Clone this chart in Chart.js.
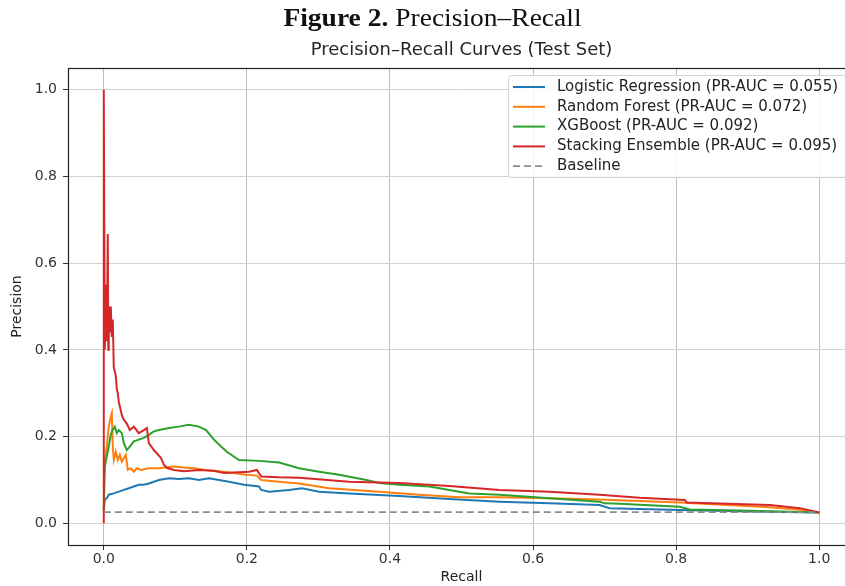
<!DOCTYPE html>
<html>
<head>
<meta charset="utf-8">
<script src="https://cdn.jsdelivr.net/npm/chart.js@4.4.1/dist/chart.umd.min.js"></script>
<style>
html, body { margin: 0; padding: 0; width: 845px; height: 586px; overflow: hidden; background: #fff; }
#wrap { position: absolute; left: 0; top: 0; }
#caption { position: absolute; left: 10px; top: 3px; width: 845px; text-align: center;
  font: 25px/30px "Liberation Serif", serif; color: #111; transform: scaleX(1.1); transform-origin: center; }
</style>
</head>
<body>
<div id="wrap"><canvas id="prChart" width="870" height="586"></canvas></div>
<div id="caption"><b>Figure 2.</b> Precision–Recall</div>
<script>
// values
const modelNames = ['Logistic Regression', 'Random Forest', 'XGBoost', 'Stacking Ensemble'];
const prAuc = [0.055, 0.072, 0.092, 0.095];
const tickValues = [0, 0.2, 0.4, 0.6, 0.8, 1.0];

const lrRecall = [0, 0.0014, 0.0042, 0.007, 0.014, 0.021, 0.028, 0.035, 0.042, 0.049, 0.056, 0.063, 0.077, 0.091, 0.105, 0.119, 0.133, 0.147, 0.161, 0.175, 0.196, 0.217, 0.22, 0.231, 0.259, 0.277, 0.301, 0.343, 0.413, 0.483, 0.553, 0.623, 0.693, 0.707, 0.805, 0.903, 1.0];
const lrPrecision = [0.031, 0.054, 0.058, 0.066, 0.069, 0.073, 0.077, 0.081, 0.085, 0.089, 0.089, 0.092, 0.1, 0.104, 0.102, 0.104, 0.1, 0.104, 0.1, 0.096, 0.089, 0.085, 0.077, 0.073, 0.077, 0.081, 0.073, 0.069, 0.063, 0.056, 0.05, 0.046, 0.042, 0.035, 0.031, 0.027, 0.025];

const rfRecall = [0, 0.0014, 0.0042, 0.007, 0.0098, 0.0112, 0.0126, 0.014, 0.0168, 0.0196, 0.0224, 0.0252, 0.028, 0.0308, 0.0336, 0.0378, 0.042, 0.0462, 0.0518, 0.063, 0.077, 0.098, 0.112, 0.126, 0.147, 0.168, 0.199, 0.214, 0.22, 0.245, 0.273, 0.315, 0.385, 0.441, 0.497, 0.553, 0.623, 0.693, 0.805, 0.931, 0.973, 1.0];
const rfPrecision = [0.08, 0.146, 0.177, 0.223, 0.246, 0.254, 0.177, 0.146, 0.165, 0.146, 0.158, 0.142, 0.15, 0.158, 0.123, 0.127, 0.119, 0.127, 0.123, 0.127, 0.127, 0.131, 0.129, 0.127, 0.122, 0.119, 0.112, 0.11, 0.1, 0.096, 0.092, 0.081, 0.073, 0.066, 0.06, 0.06, 0.058, 0.055, 0.048, 0.037, 0.031, 0.025];

const xgRecall = [0, 0.0014, 0.0042, 0.007, 0.0098, 0.0122, 0.0154, 0.0182, 0.021, 0.0252, 0.028, 0.0322, 0.0364, 0.042, 0.049, 0.056, 0.063, 0.07, 0.077, 0.091, 0.105, 0.119, 0.133, 0.143, 0.154, 0.164, 0.172, 0.189, 0.217, 0.245, 0.273, 0.301, 0.329, 0.367, 0.385, 0.413, 0.455, 0.483, 0.511, 0.553, 0.623, 0.693, 0.7, 0.721, 0.805, 0.819, 0.903, 1.0];
const xgPrecision = [0.03, 0.13, 0.154, 0.177, 0.204, 0.215, 0.223, 0.208, 0.215, 0.208, 0.185, 0.169, 0.177, 0.189, 0.193, 0.197, 0.204, 0.212, 0.215, 0.22, 0.223, 0.227, 0.223, 0.215, 0.193, 0.177, 0.165, 0.146, 0.144, 0.14, 0.127, 0.119, 0.112, 0.1, 0.093, 0.089, 0.085, 0.077, 0.069, 0.066, 0.058, 0.05, 0.046, 0.045, 0.038, 0.032, 0.029, 0.025];

const stRecall = [0, 0, 0.0014, 0.0028, 0.0042, 0.0056, 0.0063, 0.007, 0.0084, 0.0098, 0.0112, 0.0126, 0.014, 0.0154, 0.0168, 0.0182, 0.0196, 0.021, 0.0224, 0.0252, 0.0276, 0.0322, 0.0364, 0.042, 0.049, 0.056, 0.0602, 0.063, 0.07, 0.0798, 0.084, 0.0882, 0.098, 0.112, 0.133, 0.154, 0.168, 0.203, 0.214, 0.22, 0.245, 0.273, 0.343, 0.413, 0.483, 0.553, 0.623, 0.693, 0.749, 0.812, 0.815, 0.931, 0.973, 1.0];
const stPrecision = [0, 1.0, 0.40, 0.55, 0.42, 0.667, 0.40, 0.50, 0.44, 0.50, 0.43, 0.47, 0.36, 0.35, 0.34, 0.31, 0.30, 0.28, 0.27, 0.25, 0.24, 0.23, 0.215, 0.223, 0.208, 0.215, 0.22, 0.185, 0.169, 0.151, 0.135, 0.128, 0.123, 0.12, 0.123, 0.121, 0.116, 0.119, 0.123, 0.108, 0.106, 0.105, 0.096, 0.093, 0.086, 0.077, 0.073, 0.066, 0.059, 0.054, 0.048, 0.042, 0.035, 0.025];

const baselineRecall = [0, 1];
const baselinePrecision = [0.0256, 0.0256];

const colors = ['#1f77b4', '#ff7f0e', '#2ca02c', '#d62728'];
const baseColor = '#8c8c8c';
const FONT = 'DejaVu Sans';

function toPoints(rx, py) {
  return rx.map((r, i) => ({ x: r, y: py[i] }));
}

const curves = [
  [lrRecall, lrPrecision],
  [rfRecall, rfPrecision],
  [xgRecall, xgPrecision],
  [stRecall, stPrecision]
];

const datasets = curves.map((c, i) => ({
  label: modelNames[i] + ' (PR-AUC = ' + prAuc[i].toFixed(3) + ')',
  data: toPoints(c[0], c[1]),
  borderColor: colors[i],
  borderWidth: 2,
  pointRadius: 0,
  tension: 0,
  order: 5 - i
}));
datasets.push({
  label: 'Baseline',
  data: toPoints(baselineRecall, baselinePrecision),
  borderColor: baseColor,
  borderWidth: 1.8,
  borderDash: [7, 4],
  pointRadius: 0,
  order: 0
});

// frame, title and legend drawn the matplotlib way
const frameAndLegend = {
  id: 'frameAndLegend',
  afterDatasetsDraw(chart) {
    const { ctx, chartArea: a } = chart;
    ctx.save();
    ctx.strokeStyle = '#222';
    ctx.lineWidth = 1.2;
    ctx.strokeRect(a.left + 0.5, a.top + 0.5, a.right - a.left, a.bottom - a.top);

    ctx.fillStyle = '#262626';
    ctx.font = '18px "' + FONT + '"';
    ctx.textAlign = 'center';
    ctx.textBaseline = 'middle';
    ctx.fillText('Precision–Recall Curves (Test Set)', (a.left + a.right) / 2, a.top - 18);

    const bx = a.left + 440, by = a.top + 7, bw = 340, bh = 102;
    ctx.beginPath();
    ctx.roundRect(bx + 0.5, by + 0.5, bw, bh, 3);
    ctx.fillStyle = 'rgba(255,255,255,0.85)';
    ctx.fill();
    ctx.strokeStyle = '#d4d4d4';
    ctx.lineWidth = 1;
    ctx.stroke();

    ctx.font = '15px "' + FONT + '"';
    ctx.textAlign = 'left';
    chart.data.datasets.forEach((d, i) => {
      const y = by + 12 + i * 19.8;
      ctx.beginPath();
      ctx.setLineDash(d.borderDash || []);
      ctx.strokeStyle = d.borderColor;
      ctx.lineWidth = d.borderWidth;
      ctx.moveTo(bx + 5, y);
      ctx.lineTo(bx + 37, y);
      ctx.stroke();
      ctx.setLineDash([]);
      ctx.fillStyle = '#222';
      ctx.fillText(d.label, bx + 49, y);
    });
    ctx.restore();
  }
};

const tickFont = { family: FONT, size: 14 };

const config = {
  type: 'line',
  data: { datasets: datasets },
  options: {
    responsive: false,
    animation: false,
    devicePixelRatio: 1,
    layout: { padding: { top: 68, right: 15, left: 0, bottom: 0 } },
    plugins: {
      legend: { display: false },
      title: { display: false },
      tooltip: { enabled: false }
    },
    scales: {
      x: {
        type: 'linear',
        min: -0.05,
        max: 1.05,
        afterBuildTicks: s => { s.ticks = tickValues.map(v => ({ value: v })); },
        afterFit: s => { s.height = 41; },
        ticks: { callback: v => v.toFixed(1), padding: 1, font: tickFont, color: '#333', maxRotation: 0, autoSkip: false },
        grid: { color: '#bdbdbd', lineWidth: 1, tickLength: 5, tickColor: '#333' },
        border: { display: false },
        title: { display: true, text: 'Recall', font: tickFont, color: '#222', padding: { top: 0, bottom: 0 } }
      },
      y: {
        type: 'linear',
        min: -0.05,
        max: 1.05,
        afterBuildTicks: s => { s.ticks = tickValues.map(v => ({ value: v })); },
        afterFit: s => { s.width = 68; },
        ticks: { callback: v => v.toFixed(1), padding: 6, font: tickFont, color: '#333', autoSkip: false },
        grid: { color: '#d2d2d2', lineWidth: 1, tickLength: 5, tickColor: '#333' },
        border: { display: false },
        title: { display: true, text: 'Precision', font: tickFont, color: '#222', padding: { top: 9, bottom: 0 } }
      }
    }
  },
  plugins: [frameAndLegend]
};

const ctx = document.getElementById('prChart').getContext('2d');
const prChart = new Chart(ctx, config);
</script>
</body>
</html>
